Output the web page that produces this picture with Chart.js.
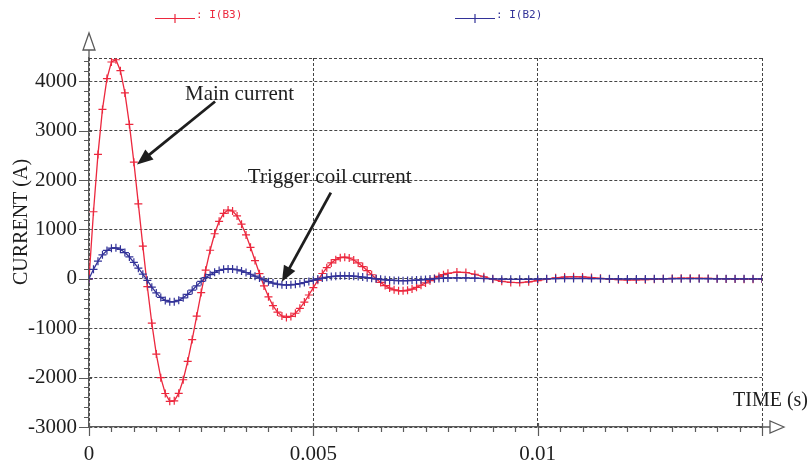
<!DOCTYPE html>
<html>
<head>
<meta charset="utf-8">
<title>I(B3) / I(B2)</title>
<script src="https://cdn.jsdelivr.net/npm/chart.js@4.4.0/dist/chart.umd.min.js"></script>
<style>
  html, body { margin: 0; padding: 0; background: #fff; }
  #wrap { position: relative; width: 810px; height: 468px; }
</style>
</head>
<body>
<div id="wrap"><canvas id="chart" width="810" height="468"></canvas></div>
<script>
// time samples (s): 0.1 ms until 8 ms, then 0.2 ms
const times = [
  0, 0.0001, 0.0002, 0.0003, 0.0004, 0.0005, 0.0006, 0.0007, 0.0008, 0.0009,
  0.0010, 0.0011, 0.0012, 0.0013, 0.0014, 0.0015, 0.0016, 0.0017, 0.0018, 0.0019,
  0.0020, 0.0021, 0.0022, 0.0023, 0.0024, 0.0025, 0.0026, 0.0027, 0.0028, 0.0029,
  0.0030, 0.0031, 0.0032, 0.0033, 0.0034, 0.0035, 0.0036, 0.0037, 0.0038, 0.0039,
  0.0040, 0.0041, 0.0042, 0.0043, 0.0044, 0.0045, 0.0046, 0.0047, 0.0048, 0.0049,
  0.0050, 0.0051, 0.0052, 0.0053, 0.0054, 0.0055, 0.0056, 0.0057, 0.0058, 0.0059,
  0.0060, 0.0061, 0.0062, 0.0063, 0.0064, 0.0065, 0.0066, 0.0067, 0.0068, 0.0069,
  0.0070, 0.0071, 0.0072, 0.0073, 0.0074, 0.0075, 0.0076, 0.0077, 0.0078, 0.0079,
  0.0080,
  0.0082, 0.0084, 0.0086, 0.0088, 0.0090, 0.0092, 0.0094, 0.0096, 0.0098, 0.0100,
  0.0102, 0.0104, 0.0106, 0.0108, 0.0110, 0.0112, 0.0114, 0.0116, 0.0118, 0.0120,
  0.0122, 0.0124, 0.0126, 0.0128, 0.0130, 0.0132, 0.0134, 0.0136, 0.0138, 0.0140,
  0.0142, 0.0144, 0.0146, 0.0148, 0.0150
];

// I(B3) - main current (A)
const mainCurrent = [
  0, 1358, 2518, 3429, 4054, 4389, 4435, 4213, 3762, 3125,
  2361, 1517, 661, -158, -899, -1523, -2002, -2322, -2480, -2470,
  -2319, -2043, -1670, -1230, -756, -278, 175, 578, 912, 1164,
  1325, 1393, 1373, 1273, 1106, 888, 637, 370, 104, -145,
  -364, -543, -674, -753, -781, -761, -697, -598, -471, -328,
  -177, -30, 107, 226, 321, 388, 427, 437, 421, 381,
  321, 248, 167, 82, 1, -74, -137, -188, -223, -242,
  -244, -232, -207, -172, -130, -84, -37, 8, 49, 83,
  110,
  136, 128, 92, 42, -9, -50, -73, -76, -61, -36,
  -6, 20, 37, 43, 38, 26, 10, -6, -18, -24,
  -23, -18, -9, 0, 7, 12, 13, 11, 7, 2,
  -3, -6, -8, -7, -5
];

// I(B2) - trigger coil current (A)
const triggerCurrent = [
  0, 192, 356, 485, 574, 621, 628, 596, 532, 442,
  334, 215, 94, -30, -169, -286, -376, -437, -466, -464,
  -436, -384, -314, -231, -142, -52, 25, 83, 131, 168,
  191, 201, 198, 183, 159, 128, 92, 53, 15, -23,
  -58, -87, -108, -120, -125, -122, -112, -96, -75, -52,
  -28, -5, 15, 32, 45, 54, 60, 61, 59, 53,
  45, 35, 23, 11, 0, -11, -21, -28, -33, -36,
  -37, -35, -31, -26, -20, -13, -6, 1, 7, 12,
  17,
  20, 19, 14, 6, -1, -8, -11, -11, -9, -5,
  -1, 3, 6, 6, 6, 4, 2, -1, -3, -4,
  -3, -3, -1, 0, 1, 2, 2, 2, 1, 0,
  0, -1, -1, -1, -1
];

const xTicks = [0, 0.005, 0.01];
const yTicks = [-3000, -2000, -1000, 0, 1000, 2000, 3000, 4000];
const xRange = [0, 0.015];
const yRange = [-3000, 4470];
const xMinorStep = 0.0005;
const yMinorStep = 200;

const RED = "rgb(236,40,62)";
const BLUE = "rgb(50,50,152)";
const AXIS = "#5a5a5a";
const INK = "#1e1e1e";
const SERIF = "'Liberation Serif', 'Times New Roman', serif";

// annotations (data coordinates)
const notes = [
  { text: "Main current", at: [0.00214, 3740], from: [0.00281, 3590], to: [0.00107, 2312] },
  { text: "Trigger coil current", at: [0.00354, 2050], from: [0.00539, 1744], to: [0.00430, -61] }
];

function arrowHead(ctx, x1, y1, x2, y2, len, half) {
  const a = Math.atan2(y2 - y1, x2 - x1);
  ctx.beginPath();
  ctx.moveTo(x2, y2);
  ctx.lineTo(x2 - len * Math.cos(a) + half * Math.sin(a), y2 - len * Math.sin(a) - half * Math.cos(a));
  ctx.lineTo(x2 - len * Math.cos(a) - half * Math.sin(a), y2 - len * Math.sin(a) + half * Math.cos(a));
  ctx.closePath();
  ctx.fill();
}

// ===============================
// frame: dashed top/right border, minor ticks, axis arrows, texts
// ===============================
const framePlugin = {
  id: "frame",
  beforeDatasetsDraw(chart) {
    const { ctx, chartArea: ca } = chart;
    ctx.save();
    ctx.strokeStyle = "#444";
    ctx.lineWidth = 1;
    ctx.setLineDash([3, 2]);
    ctx.beginPath();
    ctx.moveTo(ca.left, ca.top + 0.5);
    ctx.lineTo(ca.right, ca.top + 0.5);
    ctx.moveTo(ca.right + 0.5, ca.top);
    ctx.lineTo(ca.right + 0.5, ca.bottom);
    ctx.stroke();
    ctx.restore();
  },
  afterDraw(chart) {
    const { ctx, chartArea: ca, scales: { x, y } } = chart;
    ctx.save();
    ctx.strokeStyle = AXIS;
    ctx.lineWidth = 1.3;
    ctx.setLineDash([]);

    // axis extensions
    ctx.beginPath();
    ctx.moveTo(ca.left, ca.top);
    ctx.lineTo(ca.left, ca.top - 8);
    ctx.moveTo(ca.right, ca.bottom);
    ctx.lineTo(ca.right + 8, ca.bottom);
    ctx.stroke();

    // open arrowheads
    ctx.fillStyle = "#fff";
    ctx.beginPath();
    ctx.moveTo(ca.left, ca.top - 25);
    ctx.lineTo(ca.left - 6, ca.top - 8);
    ctx.lineTo(ca.left + 6, ca.top - 8);
    ctx.closePath();
    ctx.fill(); ctx.stroke();
    ctx.beginPath();
    ctx.moveTo(ca.right + 22, ca.bottom);
    ctx.lineTo(ca.right + 8, ca.bottom - 6);
    ctx.lineTo(ca.right + 8, ca.bottom + 6);
    ctx.closePath();
    ctx.fill(); ctx.stroke();

    // minor and major ticks
    ctx.lineWidth = 1.2;
    ctx.beginPath();
    for (let v = yRange[0]; v <= yRange[1]; v += yMinorStep) {
      const py = Math.round(y.getPixelForValue(v)) + 0.5;
      const major = v % 1000 === 0;
      ctx.moveTo(ca.left - (major ? 10 : 5), py);
      ctx.lineTo(ca.left + (major ? 3 : 0), py);
    }
    for (let i = 0; i * xMinorStep <= xRange[1] + 1e-9; i++) {
      const px = Math.round(x.getPixelForValue(i * xMinorStep)) + 0.5;
      const major = i % 10 === 0;
      ctx.moveTo(px, ca.bottom - (major ? 4 : 0));
      ctx.lineTo(px, ca.bottom + (major ? 9 : 5));
    }
    ctx.stroke();

    // axis titles
    ctx.fillStyle = INK;
    ctx.font = "20px " + SERIF;
    ctx.textBaseline = "middle";
    ctx.textAlign = "right";
    ctx.fillText("TIME (s)", 808, 401);
    ctx.save();
    ctx.translate(22, 222);
    ctx.rotate(-Math.PI / 2);
    ctx.textAlign = "center";
    ctx.fillText("CURRENT (A)", 0, 0);
    ctx.restore();

    // legend
    const legend = [
      { x0: 155, color: RED, label: ": I(B3)" },
      { x0: 455, color: BLUE, label: ": I(B2)" }
    ];
    ctx.font = "11px 'DejaVu Sans Mono', monospace";
    ctx.textAlign = "left";
    legend.forEach((l) => {
      ctx.strokeStyle = l.color;
      ctx.fillStyle = l.color;
      ctx.lineWidth = 1.2;
      ctx.beginPath();
      ctx.moveTo(l.x0, 18.5);
      ctx.lineTo(l.x0 + 40, 18.5);
      ctx.moveTo(l.x0 + 20, 14);
      ctx.lineTo(l.x0 + 20, 23);
      ctx.stroke();
      ctx.fillText(l.label, l.x0 + 41, 15);
    });

    // annotations
    ctx.strokeStyle = INK;
    ctx.fillStyle = INK;
    ctx.font = "21px " + SERIF;
    notes.forEach((n) => {
      ctx.fillText(n.text, x.getPixelForValue(n.at[0]), y.getPixelForValue(n.at[1]));
      const x1 = x.getPixelForValue(n.from[0]), y1 = y.getPixelForValue(n.from[1]);
      const x2 = x.getPixelForValue(n.to[0]), y2 = y.getPixelForValue(n.to[1]);
      const a = Math.atan2(y2 - y1, x2 - x1);
      ctx.lineWidth = 2.8;
      ctx.beginPath();
      ctx.moveTo(x1, y1);
      ctx.lineTo(x2 - 10 * Math.cos(a), y2 - 10 * Math.sin(a));
      ctx.stroke();
      arrowHead(ctx, x1, y1, x2, y2, 16, 6.5);
    });
    ctx.restore();
  }
};

function series(values) {
  return times.map((t, i) => ({ x: t, y: values[i] }));
}

new Chart(document.getElementById("chart"), {
  type: "line",
  data: {
    datasets: [
      {
        label: "I(B2)",
        data: series(triggerCurrent),
        borderColor: BLUE,
        backgroundColor: BLUE,
        borderWidth: 1.3,
        pointStyle: "cross",
        pointRadius: 4,
        pointBorderWidth: 1.2,
        pointBorderColor: BLUE,
        tension: 0,
        order: 0
      },
      {
        label: "I(B3)",
        data: series(mainCurrent),
        borderColor: RED,
        backgroundColor: RED,
        borderWidth: 1.3,
        pointStyle: "cross",
        pointRadius: 4,
        pointBorderWidth: 1.2,
        pointBorderColor: RED,
        tension: 0,
        order: 1
      }
    ]
  },
  options: {
    responsive: false,
    animation: false,
    events: [],
    layout: { padding: { top: 58, left: 0, right: 48, bottom: 0 } },
    plugins: {
      legend: { display: false },
      tooltip: { enabled: false }
    },
    scales: {
      x: {
        type: "linear",
        min: xRange[0],
        max: xRange[1],
        afterBuildTicks: (s) => { s.ticks = xTicks.map((v) => ({ value: v })); },
        afterFit: (s) => { s.height = 41; },
        grid: { color: "#444", lineWidth: 1, drawTicks: false },
        border: { display: true, color: AXIS, width: 1.3, dash: [3, 2] },
        ticks: {
          font: { family: SERIF, size: 21 },
          color: INK,
          padding: 15,
          maxRotation: 0,
          callback: (v) => String(v)
        }
      },
      y: {
        min: yRange[0],
        max: yRange[1],
        afterBuildTicks: (s) => { s.ticks = yTicks.map((v) => ({ value: v })); },
        afterFit: (s) => { s.width = 89; },
        grid: { color: "#444", lineWidth: 1, drawTicks: false },
        border: { display: true, color: AXIS, width: 1.3, dash: [3, 2] },
        ticks: {
          font: { family: SERIF, size: 21 },
          color: INK,
          padding: 12,
          callback: (v) => String(v)
        }
      }
    }
  },
  plugins: [framePlugin]
});
</script>
</body>
</html>
